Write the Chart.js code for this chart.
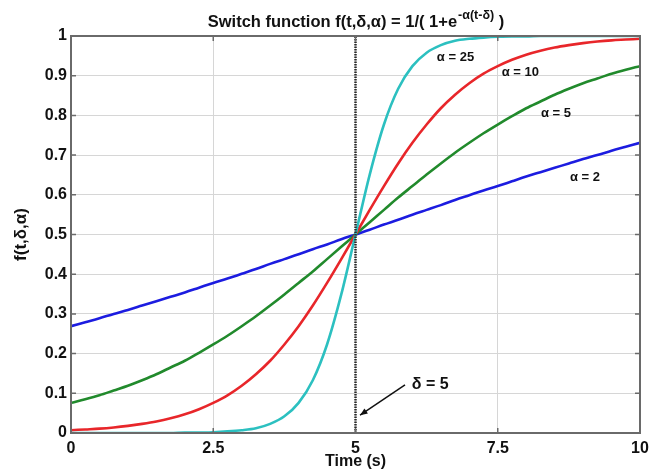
<!DOCTYPE html>
<html>
<head>
<meta charset="utf-8">
<script src="https://cdn.jsdelivr.net/npm/chart.js@4.4.0/dist/chart.umd.min.js"></script>
<style>
  html, body { margin: 0; padding: 0; background: #fff; }
  #wrap { width: 662px; height: 472px; }
</style>
</head>
<body>
<div id="wrap"><canvas id="switchChart" width="662" height="472"></canvas></div>
<script>
// time samples (s)
const timeSteps = [0, 0.25, 0.5, 0.75, 1, 1.25, 1.5, 1.75, 2, 2.25, 2.5, 2.75, 3, 3.25, 3.5, 3.75, 4, 4.25, 4.5, 4.75,
  5, 5.25, 5.5, 5.75, 6, 6.25, 6.5, 6.75, 7, 7.25, 7.5, 7.75, 8, 8.25, 8.5, 8.75, 9, 9.25, 9.5, 9.75, 10];

// values
const alpha2 = [0.269, 0.279, 0.289, 0.300, 0.310, 0.321, 0.332, 0.343, 0.354, 0.366, 0.378, 0.389, 0.401, 0.413, 0.426, 0.438, 0.450, 0.463, 0.475, 0.488,
  0.500, 0.512, 0.525, 0.537, 0.550, 0.562, 0.574, 0.587, 0.599, 0.611, 0.622, 0.634, 0.646, 0.657, 0.668, 0.679, 0.690, 0.700, 0.711, 0.721, 0.731];
const alpha5 = [0.076, 0.085, 0.095, 0.107, 0.119, 0.133, 0.148, 0.165, 0.182, 0.202, 0.223, 0.245, 0.269, 0.294, 0.321, 0.349, 0.378, 0.407, 0.438, 0.469,
  0.500, 0.531, 0.562, 0.593, 0.622, 0.651, 0.679, 0.706, 0.731, 0.755, 0.777, 0.798, 0.818, 0.835, 0.852, 0.867, 0.881, 0.893, 0.905, 0.915, 0.924];
const alpha10 = [0.007, 0.009, 0.011, 0.014, 0.018, 0.023, 0.029, 0.037, 0.047, 0.060, 0.076, 0.095, 0.119, 0.148, 0.182, 0.223, 0.269, 0.321, 0.378, 0.438,
  0.500, 0.562, 0.622, 0.679, 0.731, 0.777, 0.818, 0.852, 0.881, 0.905, 0.924, 0.940, 0.953, 0.963, 0.971, 0.977, 0.982, 0.986, 0.989, 0.991, 0.993];
const alpha25 = [0.000, 0.000, 0.000, 0.000, 0.000, 0.000, 0.000, 0.000, 0.001, 0.001, 0.002, 0.004, 0.007, 0.012, 0.023, 0.042, 0.076, 0.133, 0.223, 0.349,
  0.500, 0.651, 0.777, 0.867, 0.924, 0.958, 0.977, 0.988, 0.993, 0.996, 0.998, 0.999, 0.999, 1.000, 1.000, 1.000, 1.000, 1.000, 1.000, 1.000, 1.000];

const delta = 5;
const xTicks = [0, 2.5, 5, 7.5, 10];
const xTickLabels = ['0', '2.5', '5', '7.5', '10'];
const yTicks = [0, 0.1, 0.2, 0.3, 0.4, 0.5, 0.6, 0.7, 0.8, 0.9, 1];
const yTickLabels = ['0', '0.1', '0.2', '0.3', '0.4', '0.5', '0.6', '0.7', '0.8', '0.9', '1'];

const FONT = '"Liberation Sans", Arial, sans-serif';
const FRAME = '#6a6a6a';

const toPoints = ys => ys.map((y, i) => ({ x: timeSteps[i], y }));

function curve(values, color, order) {
  return {
    data: toPoints(values),
    borderColor: color,
    borderWidth: 2.6,
    pointRadius: 0,
    cubicInterpolationMode: 'monotone',
    order,
  };
}

// text labels on the plot, placed in data units
const curveLabels = [
  { text: 'α = 25', t: 6.43, v: 0.947 },
  { text: 'α = 10', t: 7.57, v: 0.907 },
  { text: 'α = 5', t: 8.26, v: 0.806 },
  { text: 'α = 2', t: 8.77, v: 0.645 },
];

const decorPlugin = {
  id: 'decor',
  afterDatasetsDraw(chart) {
    const { ctx, chartArea: a, scales: { x, y } } = chart;
    ctx.save();

    // inward tick marks
    ctx.strokeStyle = FRAME;
    ctx.lineWidth = 1.5;
    const tl = 5;
    ctx.beginPath();
    yTicks.forEach(v => {
      const py = y.getPixelForValue(v);
      ctx.moveTo(a.left, py); ctx.lineTo(a.left + tl, py);
      ctx.moveTo(a.right, py); ctx.lineTo(a.right - tl, py);
    });
    xTicks.forEach(v => {
      const px = x.getPixelForValue(v);
      ctx.moveTo(px, a.bottom); ctx.lineTo(px, a.bottom - tl);
      ctx.moveTo(px, a.top); ctx.lineTo(px, a.top + tl);
    });
    ctx.stroke();

    // frame
    ctx.lineWidth = 2;
    ctx.strokeRect(a.left, a.top, a.right - a.left, a.bottom - a.top);

    // curve labels
    ctx.fillStyle = '#111';
    ctx.font = 'bold 13px ' + FONT;
    ctx.textBaseline = 'middle';
    ctx.textAlign = 'left';
    curveLabels.forEach(l => ctx.fillText(l.text, x.getPixelForValue(l.t), y.getPixelForValue(l.v)));

    // delta annotation with arrow
    ctx.font = 'bold 16px ' + FONT;
    ctx.fillText('δ = 5', x.getPixelForValue(5.99), y.getPixelForValue(0.121));
    const x0 = x.getPixelForValue(5.87), y0 = y.getPixelForValue(0.121);
    const x1 = x.getPixelForValue(5.08), y1 = y.getPixelForValue(0.045);
    ctx.strokeStyle = '#111';
    ctx.lineWidth = 1.5;
    ctx.beginPath(); ctx.moveTo(x0, y0); ctx.lineTo(x1, y1); ctx.stroke();
    const ang = Math.atan2(y1 - y0, x1 - x0);
    ctx.beginPath();
    ctx.moveTo(x1, y1);
    ctx.lineTo(x1 - 8 * Math.cos(ang - 0.4), y1 - 8 * Math.sin(ang - 0.4));
    ctx.lineTo(x1 - 8 * Math.cos(ang + 0.4), y1 - 8 * Math.sin(ang + 0.4));
    ctx.closePath();
    ctx.fill();

    ctx.restore();
  },
  afterDraw(chart) {
    // title with superscript exponent
    const { ctx, chartArea: a } = chart;
    ctx.save();
    ctx.fillStyle = '#111';
    ctx.textBaseline = 'alphabetic';
    ctx.textAlign = 'left';
    const main = 'Switch function f(t,δ,α) = 1/( 1+e';
    const sup = '-α(t-δ)';
    const end = ' )';
    const mainFont = 'bold 16.5px ' + FONT, supFont = 'bold 12.5px ' + FONT;
    ctx.font = mainFont;
    const wMain = ctx.measureText(main).width, wEnd = ctx.measureText(end).width;
    ctx.font = supFont;
    const wSup = ctx.measureText(sup).width;
    let px = (a.left + a.right) / 2 - (wMain + wSup + wEnd) / 2;
    ctx.font = mainFont;
    ctx.fillText(main, px, 27);
    px += wMain;
    ctx.font = supFont;
    ctx.fillText(sup, px + 1, 19);
    px += wSup + 1;
    ctx.font = mainFont;
    ctx.fillText(end, px, 27);
    ctx.restore();
  },
};

new Chart(document.getElementById('switchChart'), {
  type: 'line',
  data: {
    datasets: [
      {
        data: [{ x: delta, y: 0 }, { x: delta, y: 1 }],
        borderColor: '#2a2a2a',
        borderWidth: 2.5,
        borderDash: [1.5, 1],
        pointRadius: 0,
        order: 0,
      },
      curve(alpha25, '#2cc0c0', 1),
      curve(alpha10, '#e8262a', 2),
      curve(alpha5, '#218a2c', 3),
      curve(alpha2, '#1c1ce0', 4),
    ],
  },
  options: {
    responsive: false,
    animation: false,
    layout: { padding: { top: 36, right: 22, left: 0, bottom: 0 } },
    plugins: { legend: { display: false }, title: { display: false }, tooltip: { enabled: false } },
    scales: {
      x: {
        type: 'linear', min: 0, max: 10,
        afterBuildTicks: s => { s.ticks = xTicks.map(v => ({ value: v })); },
        afterFit: s => { s.height = 39; },
        grid: { color: '#d6d6d6', lineWidth: 1, drawTicks: false },
        border: { display: false },
        ticks: { padding: 6, maxRotation: 0, color: '#111', font: { family: FONT, size: 16, weight: 'bold' },
          callback: (v, i) => xTickLabels[i] },
        title: { display: true, text: 'Time (s)', color: '#111', font: { family: FONT, size: 16, weight: 'bold' },
          padding: { top: 0, bottom: 1 } },
      },
      y: {
        type: 'linear', min: 0, max: 1,
        afterBuildTicks: s => { s.ticks = yTicks.map(v => ({ value: v })); },
        afterFit: s => { s.width = 71; },
        grid: { color: '#d6d6d6', lineWidth: 1, drawTicks: false },
        border: { display: false },
        ticks: { padding: 4, color: '#111', font: { family: FONT, size: 16, weight: 'bold' },
          callback: (v, i) => yTickLabels[i] },
        title: { display: true, text: 'f(t,δ,α)', color: '#111', font: { family: FONT, size: 17, weight: 'bold' },
          padding: { top: 11, bottom: 0 } },
      },
    },
  },
  plugins: [decorPlugin],
});
</script>
</body>
</html>
